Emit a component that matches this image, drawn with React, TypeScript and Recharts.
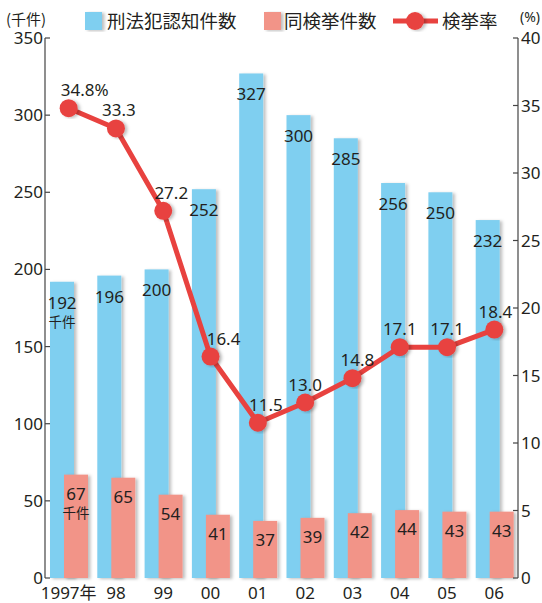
import React from 'react';
import { ComposedChart, Bar, Line, XAxis, YAxis, LabelList } from 'recharts';

const years = ['1997年', '98', '99', '00', '01', '02', '03', '04', '05', '06'];
const recognized = [192, 196, 200, 252, 327, 300, 285, 256, 250, 232];
const cleared = [67, 65, 54, 41, 37, 39, 42, 44, 43, 43];
const clearanceRate = [34.8, 33.3, 27.2, 16.4, 11.5, 13.0, 14.8, 17.1, 17.1, 18.4];
const leftTicks = [0, 50, 100, 150, 200, 250, 300, 350];
const rightTicks = [0, 5, 10, 15, 20, 25, 30, 35, 40];

const BLUE = '#7fcff0';
const SALMON = '#f29488';
const RED = '#e8423f';
const TEXT = '#231f20';
const FONT = "'Noto Sans', 'Noto Sans CJK JP', sans-serif";
const CJK = "'Noto Sans CJK JP', sans-serif";

const rateLabelDx = [16, 3, 8, 13, 8, 0, 5, 0, 0, 1];

const data = years.map((y, i) => ({
  year: y,
  recognized: recognized[i],
  cleared: cleared[i],
  rate: clearanceRate[i],
}));

const ShadowRect = (props: any) => {
  const { x, y, width, height, fill } = props;
  if (!height || height <= 0) return null;
  return <rect x={x} y={y} width={width} height={height} fill={fill} filter="url(#barShadow)" />;
};

const blueLabel = (props: any) => {
  const { x, y, width, value, index } = props;
  const cx = x + width / 2;
  return (
    <g>
      <text x={cx} y={y + 27} textAnchor="middle" fontSize={17} fill={TEXT} fontFamily={FONT}>{value}</text>
      {index === 0 && (
        <text x={cx} y={y + 45} textAnchor="middle" fontSize={13.5} fill={TEXT} fontFamily={CJK}>千件</text>
      )}
    </g>
  );
};

const salmonLabel = (props: any) => {
  const { x, y, width, value, index } = props;
  const cx = x + width / 2;
  return (
    <g>
      <text x={cx} y={y + 25} textAnchor="middle" fontSize={17} fill={TEXT} fontFamily={FONT}>{value}</text>
      {index === 0 && (
        <text x={cx} y={y + 43} textAnchor="middle" fontSize={13.5} fill={TEXT} fontFamily={CJK}>千件</text>
      )}
    </g>
  );
};

const rateLabel = (props: any) => {
  const { x, y, value, index } = props;
  const txt = Number(value).toFixed(1) + (index === 0 ? '%' : '');
  return (
    <text x={x + rateLabelDx[index]} y={y - 12} textAnchor="middle" fontSize={17} fill={TEXT} fontFamily={FONT}>
      {txt}
    </text>
  );
};

const XTick = (props: any) => {
  const { x, y, payload } = props;
  return (
    <text x={x} y={y + 21} textAnchor="middle" fontSize={17} fill={TEXT} fontFamily={FONT}>
      {payload.value}
    </text>
  );
};

export default function App() {
  return (
    <div style={{ position: 'absolute', left: 0, top: 0, width: 542, height: 603, background: '#fff', fontFamily: FONT }}>
      <svg width={542} height={40} style={{ position: 'absolute', left: 0, top: 0 }}>
        <defs>
          <filter id="barShadow" x="-20%" y="-5%" width="150%" height="115%">
            <feDropShadow dx="2.5" dy="1" stdDeviation="1.5" floodColor="#000" floodOpacity="0.25" />
          </filter>
        </defs>
        <text x={6} y={25} fontSize={15} fill={TEXT} fontFamily={CJK}>(千件)</text>
        <rect x={85} y={12} width={17} height={18} fill={BLUE} filter="url(#barShadow)" />
        <text x={107} y={28} fontSize={18.5} fill={TEXT} fontFamily={CJK}>刑法犯認知件数</text>
        <rect x={264} y={12} width={17} height={18} fill={SALMON} filter="url(#barShadow)" />
        <text x={284} y={28} fontSize={18.5} fill={TEXT} fontFamily={CJK}>同検挙件数</text>
        <line x1={393} y1={21} x2={438} y2={21} stroke={RED} strokeWidth={5} />
        <circle cx={415} cy={21} r={9} fill={RED} filter="url(#barShadow)" />
        <text x={442} y={28} fontSize={18.5} fill={TEXT} fontFamily={CJK}>検挙率</text>
        <text x={520} y={22} fontSize={14} fill={TEXT} fontFamily={FONT}>(%)</text>
      </svg>
      <div style={{ position: 'absolute', left: 0, top: 0 }}>
        <ComposedChart
          width={542}
          height={603}
          data={data}
          margin={{ top: 38, right: 0, bottom: 0, left: 0 }}
          barGap={-10}
        >
          <XAxis
            dataKey="year"
            axisLine={false}
            tickLine={false}
            tickSize={0}
            tickMargin={0}
            height={25}
            interval={0}
            tick={<XTick />}
          />
          <YAxis
            yAxisId="left"
            orientation="left"
            domain={[0, 350]}
            ticks={leftTicks}
            width={45}
            tickSize={-5}
            tickMargin={7}
            axisLine={{ stroke: '#444', strokeWidth: 1.2 }}
            tickLine={{ stroke: '#444', strokeWidth: 1.2 }}
            tick={{ fill: TEXT, fontSize: 17, fontFamily: FONT }}
            interval={0}
          />
          <YAxis
            yAxisId="right"
            orientation="right"
            domain={[0, 40]}
            ticks={rightTicks}
            width={24}
            tickSize={-5}
            tickMargin={8}
            axisLine={{ stroke: '#444', strokeWidth: 1.2 }}
            tickLine={{ stroke: '#444', strokeWidth: 1.2 }}
            tick={{ fill: TEXT, fontSize: 17, fontFamily: FONT, textAnchor: 'start' }}
            interval={0}
          />
          <Bar yAxisId="left" dataKey="recognized" fill={BLUE} barSize={24} shape={<ShadowRect />} isAnimationActive={false}>
            <LabelList dataKey="recognized" content={blueLabel} />
          </Bar>
          <Bar yAxisId="left" dataKey="cleared" fill={SALMON} barSize={24} shape={<ShadowRect />} isAnimationActive={false}>
            <LabelList dataKey="cleared" content={salmonLabel} />
          </Bar>
          <Line
            yAxisId="right"
            dataKey="rate"
            stroke={RED}
            strokeWidth={5}
            dot={{ r: 9, fill: RED, stroke: RED, strokeWidth: 0, filter: 'url(#barShadow)' }}
            activeDot={false}
            isAnimationActive={false}
          >
            <LabelList dataKey="rate" content={rateLabel} />
          </Line>
        </ComposedChart>
      </div>
    </div>
  );
}
